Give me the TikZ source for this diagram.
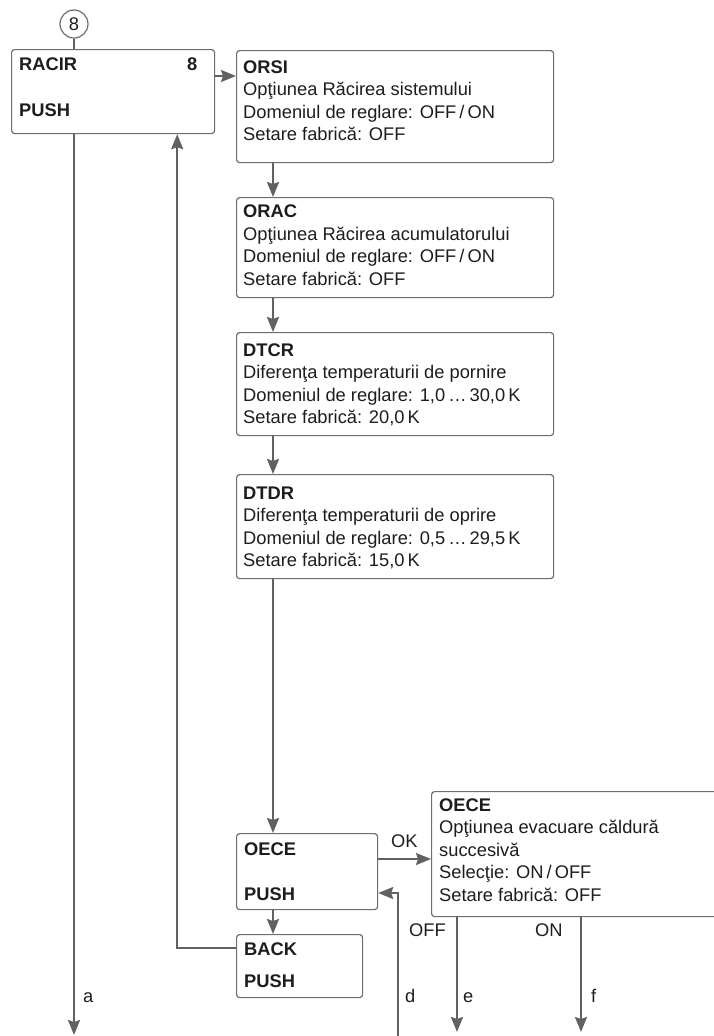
\documentclass[tikz,border=0pt]{standalone}
\usepackage{fontspec}
\setmainfont{Liberation Sans}
\usetikzlibrary{arrows.meta}
\definecolor{lg}{RGB}{96,97,101}
\definecolor{bg}{RGB}{108,109,113}
\definecolor{tx}{RGB}{30,28,29}
\begin{document}
\begin{tikzpicture}[x=1pt,y=-1pt,
  box/.style={draw=bg, line width=1.2pt, rounded corners=3pt, inner sep=0pt, anchor=north west},
  con/.style={draw=lg, line width=2pt},
  arr/.style={con, -{Stealth[length=15pt,width=12pt,inset=2pt]}},
  txt/.style={anchor=north west, inner sep=0pt, align=left, text=tx, font=\fontsize{18.3}{22.4}\selectfont},
  lab/.style={anchor=base west, inner sep=0pt, text=tx, font=\fontsize{18.3}{22}\selectfont},
  blab/.style={lab, font=\fontsize{18.3}{22}\selectfont\bfseries}]
\useasboundingbox (0,0) rectangle (714,1036);
\clip (0,0) rectangle (714,1036);

% circle 8
\node[circle, draw=bg, line width=1.2pt, minimum size=28pt, inner sep=0pt, text=tx, font=\fontsize{18.3}{22}\selectfont] (c8) at (74,24) {8};

% RACIR
\node[box, minimum width=203pt, minimum height=84pt] (racir) at (11,49) {};
\node[blab] (racirT) at (19,70) {RACIR};
\node[blab] (racirN) at (187,70) {8};
\node[blab] (racirP) at (19,116) {PUSH};

% ORSI
\node[box, minimum width=317pt, minimum height=112pt] (orsi) at (236,50) {};
\node[txt] (orsiT) at (243,60.5) {\textbf{ORSI}\\Opţiunea Răcirea sistemului\\Domeniul de reglare: OFF\,/\,ON\\Setare fabrică: OFF};

% ORAC
\node[box, minimum width=317pt, minimum height=100pt] (orac) at (236,197) {};
\node[txt] (oracT) at (243,205) {\textbf{ORAC}\\Opţiunea Răcirea acumulatorului\\Domeniul de reglare: OFF\,/\,ON\\Setare fabrică: OFF};

% DTCR
\node[box, minimum width=317pt, minimum height=103pt] (dtcr) at (236,332) {};
\node[txt] (dtcrT) at (243,343.5) {\textbf{DTCR}\\Diferenţa temperaturii de pornire\\Domeniul de reglare: 1,0\,…\,30,0\,K\\Setare fabrică: 20,0\,K};

% DTDR
\node[box, minimum width=317pt, minimum height=104pt] (dtdr) at (236,474) {};
\node[txt] (dtdrT) at (243,486.5) {\textbf{DTDR}\\Diferenţa temperaturii de oprire\\Domeniul de reglare: 0,5\,…\,29,5\,K\\Setare fabrică: 15,0\,K};

% OECE small
\node[box, minimum width=141pt, minimum height=76pt] (oece) at (236,833) {};
\node[blab] (oeceT) at (244,855) {OECE};
\node[blab] (oeceP) at (244,900) {PUSH};

% BACK
\node[box, minimum width=126pt, minimum height=63pt] (back) at (236,934) {};
\node[blab] (backT) at (244,955) {BACK};
\node[blab] (backP) at (244,987) {PUSH};

% OECE big
\node[box, minimum width=295pt, minimum height=125pt] (big) at (431,791) {};
\node[txt] (bigT) at (439,798.5) {\textbf{OECE}\\Opţiunea evacuare căldură\\succesivă\\Selecţie: ON\,/\,OFF\\Setare fabrică: OFF};

% coordinates for free ends
\coordinate (aend) at (74,1035);
\coordinate (dstart) at (398,1036);
\coordinate (eend) at (457,1032);
\coordinate (fend) at (581,1032);

% connectors
\draw[con] (c8.south) -- (c8.south |- racir.north);
\draw[arr] ([yshift=-27pt]racir.north east) -- ([yshift=-27pt]racir.north east -| orsi.west);
\draw[arr] ([xshift=37pt]orsi.south west) -- ([xshift=37pt]orac.north west);
\draw[arr] ([xshift=37pt]orac.south west) -- ([xshift=37pt]dtcr.north west);
\draw[arr] ([xshift=37pt]dtcr.south west) -- ([xshift=37pt]dtdr.north west);
\draw[arr] ([xshift=37pt]dtdr.south west) -- ([xshift=37pt]oece.north west);
\draw[arr] ([xshift=37pt]oece.south west) -- ([xshift=37pt]back.north west);
\draw[arr] ([yshift=-14pt]back.north west) -| ([xshift=-38pt]racir.south east);
\draw[arr] (racir.south -| c8) -- (aend);
\draw[arr] ([yshift=-26pt]oece.north east) -- ([yshift=-26pt]oece.north east -| big.west);
\draw[arr] (dstart) |- ([yshift=-60pt]oece.north east);
\draw[arr] (big.south -| eend) -- (eend);
\draw[arr] (big.south -| fend) -- (fend);

% labels
\node[lab] (la) at (83,1002) {a};
\node[lab] (lok) at (391,847) {OK};
\node[lab] (ld) at (405,1002) {d};
\node[lab] (le) at (463,1002) {e};
\node[lab] (lf) at (591,1002) {f};
\node[lab] (loff) at (409,936) {OFF};
\node[lab] (lon) at (535,936) {ON};
\end{tikzpicture}
\end{document}
